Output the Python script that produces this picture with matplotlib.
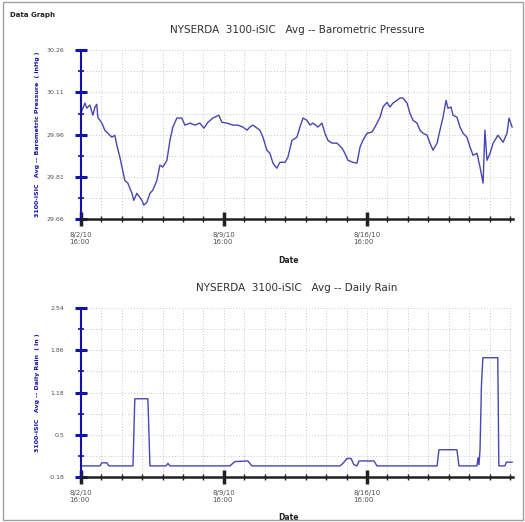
import matplotlib.pyplot as plt
import matplotlib.patches as patches
import numpy as np

# days since 8/2/10 16:00
p_days = [0.00, 0.20, 0.29, 0.44, 0.59, 0.69, 0.78, 0.83, 1.03, 1.17, 1.32, 1.52, 1.66, 1.76,
          1.91, 2.15, 2.30, 2.50, 2.59, 2.74, 2.99, 3.08, 3.23, 3.38, 3.52, 3.72, 3.87, 4.01,
          4.21, 4.36, 4.50, 4.70, 4.94, 5.09, 5.34, 5.58, 5.82, 6.02, 6.22, 6.46, 6.75, 6.90,
          7.15, 7.44, 7.68, 7.93, 8.13, 8.27, 8.42, 8.76, 8.91, 9.10, 9.25, 9.40, 9.59, 9.74,
          9.99, 10.13, 10.33, 10.57, 10.72, 10.87, 11.06, 11.21, 11.36, 11.60, 11.80, 11.94,
          12.09, 12.29, 12.53, 12.78, 12.92, 13.07, 13.31, 13.51, 13.66, 13.80, 14.00, 14.24,
          14.39, 14.64, 14.78, 14.98, 15.12, 15.27, 15.47, 15.61, 15.76, 15.96, 16.10, 16.25,
          16.45, 16.59, 16.74, 16.94, 17.08, 17.23, 17.43, 17.57, 17.72, 17.87, 17.96, 18.11,
          18.21, 18.40, 18.55, 18.70, 18.89, 19.04, 19.19, 19.38, 19.53, 19.68, 19.77, 19.87,
          20.02, 20.17, 20.41, 20.66, 20.85, 20.95, 21.10]
pressure = [30.036, 30.072, 30.054, 30.065, 30.029, 30.058, 30.068, 30.022, 30.001, 29.976,
            29.965, 29.951, 29.958, 29.923, 29.880, 29.798, 29.788, 29.752, 29.727, 29.752,
            29.727, 29.710, 29.720, 29.752, 29.763, 29.798, 29.852, 29.845, 29.869, 29.940,
            29.987, 30.019, 30.019, 29.994, 30.001, 29.994, 30.001, 29.983, 30.004, 30.019,
            30.029, 30.004, 30.001, 29.994, 29.994, 29.987, 29.976, 29.987, 29.994, 29.976,
            29.951, 29.905, 29.894, 29.859, 29.841, 29.862, 29.862, 29.880, 29.940, 29.951,
            29.987, 30.019, 30.011, 29.994, 30.001, 29.987, 30.001, 29.965, 29.940, 29.930,
            29.930, 29.912, 29.894, 29.869, 29.862, 29.859, 29.916, 29.940, 29.965, 29.969,
            29.987, 30.022, 30.058, 30.075, 30.058, 30.072, 30.082, 30.090, 30.090, 30.072,
            30.036, 30.011, 30.001, 29.976, 29.965, 29.958, 29.930, 29.905, 29.930, 29.976,
            30.022, 30.082, 30.054, 30.058, 30.029, 30.022, 29.987, 29.965, 29.951, 29.916,
            29.887, 29.894, 29.845, 29.788, 29.976, 29.869, 29.894, 29.930, 29.958, 29.933,
            29.965, 30.019, 29.987]

r_days = [0.00, 0.93, 1.03, 1.27, 1.37, 2.55, 2.64, 3.28, 3.38, 4.16, 4.26, 4.36, 7.29, 7.54,
          8.17, 8.37, 12.68, 12.82, 13.02, 13.22, 13.36, 13.51, 13.61, 14.34, 14.49, 17.43,
          17.52, 18.40, 18.50, 19.38, 19.43, 19.48, 19.53, 19.60, 19.67, 20.40, 20.45, 20.75,
          20.82, 21.10]
rain = [0.0, 0.0, 0.05, 0.05, 0.0, 0.0, 1.08, 1.08, 0.0, 0.0, 0.04, 0.0, 0.0, 0.07,
        0.08, 0.0, 0.0, 0.04, 0.12, 0.12, 0.02, 0.0, 0.08, 0.08, 0.0, 0.0,
        0.26, 0.26, 0.0, 0.0, 0.13, 0.02, 0.26, 1.30, 1.74, 1.74, 0.0, 0.0,
        0.06, 0.06]

p_ticks = [29.66, 29.81, 29.96, 30.11, 30.26]
p_ticklabels = ['29.66', '29.81', '29.96', '30.11', '30.26']
r_ticks = [-0.18, 0.5, 1.18, 1.86, 2.54]
r_ticklabels = ['-0.18', '0.5', '1.18', '1.86', '2.54']
x_ticks = [0, 7, 14]
x_ticklabels = ['8/2/10\n16:00', '8/9/10\n16:00', '8/16/10\n16:00']

titles = ['NYSERDA  3100-iSIC   Avg -- Barometric Pressure',
          'NYSERDA  3100-iSIC   Avg -- Daily Rain']
ylabels = ['3100-iSIC   Avg -- Barometric Pressure  ( inHg )',
           '3100-iSIC   Avg -- Daily Rain  ( in )']

line_color = '#4646b4'
axis_blue = '#1212a8'

fig = plt.figure(figsize=(5.25, 5.22), dpi=100)
fig.patches.append(patches.Rectangle((0.006, 0.004), 0.99, 0.992, transform=fig.transFigure,
                                     fill=False, edgecolor='#a0a0a0', lw=1))
fig.text(0.019, 0.967, 'Data Graph', fontsize=5, fontweight='bold', color='#202020')

ax1 = fig.add_axes([0.154, 0.580, 0.823, 0.324])
ax2 = fig.add_axes([0.154, 0.086, 0.823, 0.324])

ax1.plot(p_days, pressure, color=line_color, lw=1)
ax2.plot(r_days, rain, color=line_color, lw=1)

for ax, yt, ytl, title, ylab in [(ax1, p_ticks, p_ticklabels, titles[0], ylabels[0]),
                                  (ax2, r_ticks, r_ticklabels, titles[1], ylabels[1])]:
    ax.set_xlim(0, 21.14)
    ax.set_ylim(yt[0], yt[-1])
    ax.set_yticks(yt)
    ax.set_yticklabels(ytl)
    step = yt[1] - yt[0]
    ax.set_yticks(np.arange(len(yt) - 1) * step + yt[0] + step / 2, minor=True)
    ax.set_xticks(x_ticks)
    ax.set_xticklabels(x_ticklabels)
    ax.set_xticks(np.arange(1, 22), minor=True)

    for s in ['top', 'right']:
        ax.spines[s].set_visible(False)
    ax.spines['left'].set_color(axis_blue)
    ax.spines['left'].set_linewidth(1.5)
    ax.spines['bottom'].set_color('#202020')
    ax.spines['bottom'].set_linewidth(1.8)

    ax.tick_params(axis='y', which='major', direction='inout', length=8, width=2.2,
                   color=axis_blue, labelsize=4.5, labelcolor='#505050', pad=8)
    ax.tick_params(axis='y', which='minor', direction='inout', length=5, width=1.2,
                   color=axis_blue)
    ax.tick_params(axis='x', which='major', direction='inout', length=10, width=2.5,
                   color='#202020', labelsize=5, labelcolor='#505050', pad=4)
    ax.tick_params(axis='x', which='minor', direction='inout', length=5, width=1,
                   color='#202020')
    for lab in ax.get_xticklabels():
        lab.set_horizontalalignment('center')
        lab.set_multialignment('left')

    ax.grid(True, which='both', color='#c8c8c8', ls=(0, (1, 2)), lw=0.7)
    ax.set_axisbelow(True)

    ax.set_title(title, fontsize=7.5, color='#303030', pad=12)
    ax.set_ylabel(ylab, fontsize=4.5, fontweight='bold', color=axis_blue)
    ax.yaxis.set_label_coords(-0.095, 0.5)
    ax.set_xlabel('Date', fontsize=5.5, fontweight='bold', color='#202020')
    ax.xaxis.set_label_coords(0.48, -0.215)

fig.savefig('out.png', dpi=100)
